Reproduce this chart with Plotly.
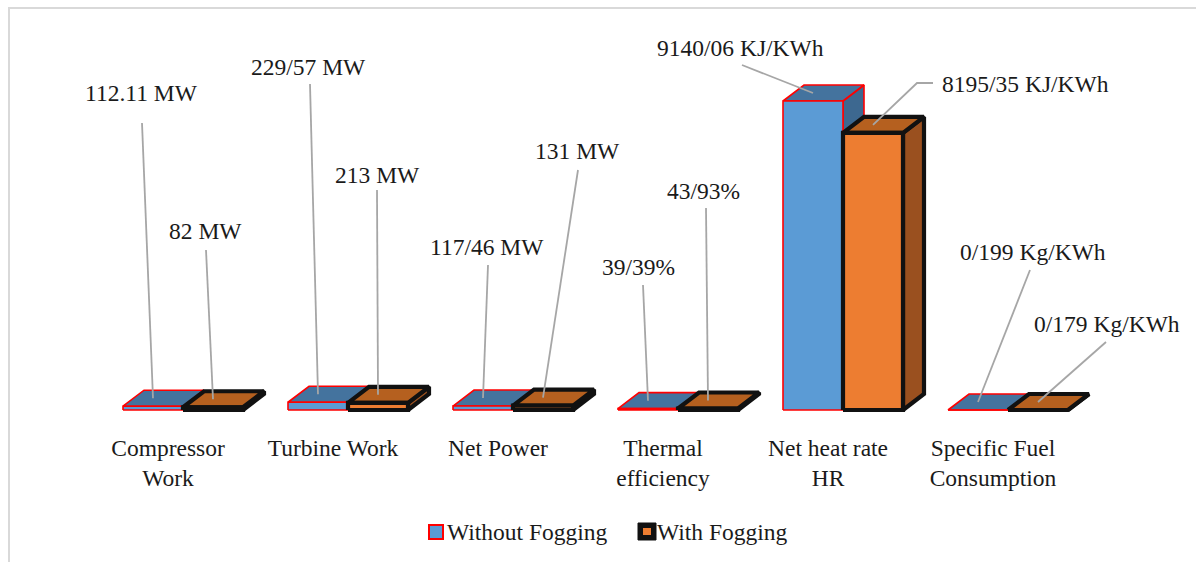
import plotly.graph_objects as go

# ---- data -------------------------------------------------------------
categories = ["Compressor<br>Work", "Turbine Work", "Net Power",
              "Thermal<br>efficiency", "Net heat rate<br>HR",
              "Specific Fuel<br>Consumption"]
without_fogging = [112.11, 229.57, 117.46, 39.39, 9140.06, 0.199]
with_fogging = [82.0, 213.0, 131.0, 43.93, 8195.35, 0.179]
labels_without = ["112.11 MW", "229/57 MW", "117/46 MW", "39/39%",
                  "9140/06 KJ/KWh", "0/199 Kg/KWh"]
labels_with = ["82 MW", "213 MW", "131 MW", "43/93%",
               "8195/35 KJ/KWh", "0/179 Kg/KWh"]

# ---- canvas / scale ---------------------------------------------------
W, H = 1196, 562
PLOT_H = 425            # height of the plotting area (px)
GROUP_PX = 165          # pixels per category
X0_PX = 183             # pixel of the first category centre
BASE_PX = 410           # pixel row of the value 0
UNITS_PER_PX = 29.58    # value units per vertical pixel

x_range = [-X0_PX / GROUP_PX, (W - X0_PX) / GROUP_PX]
y_range = [-(PLOT_H - BASE_PX) * UNITS_PER_PX, BASE_PX * UNITS_PER_PX]


def px_to_x(px):
    return (px - X0_PX) / GROUP_PX


def py_to_y(py):
    return (BASE_PX - py) * UNITS_PER_PX


BAR_W = 60 / GROUP_PX
DEPTH_X = 21 / GROUP_PX
DEPTH_Y = 16 * UNITS_PER_PX

FONT = "Liberation Serif, Times New Roman, serif"
FS = 23.5

styles = {
    "without": dict(front="#5b9bd5", top="#44739e", side="#3d6890",
                    edge="#ff0000", ew=1.6),
    "with": dict(front="#ed7d31", top="#b5601f", side="#9a501f",
                 edge="#111111", ew=4.2),
}

fig = go.Figure()


def add_poly(xs, ys, fill, edge, ew):
    fig.add_trace(go.Scatter(
        x=xs + [xs[0]], y=ys + [ys[0]], mode="lines", fill="toself",
        fillcolor=fill, line=dict(color=edge, width=ew),
        hoverinfo="skip", showlegend=False))


def add_bar(x0, h, st):
    x1 = x0 + BAR_W
    # side face
    add_poly([x1, x1 + DEPTH_X, x1 + DEPTH_X, x1],
             [0, DEPTH_Y, h + DEPTH_Y, h], st["side"], st["edge"], st["ew"])
    # top face
    add_poly([x0, x1, x1 + DEPTH_X, x0 + DEPTH_X],
             [h, h, h + DEPTH_Y, h + DEPTH_Y], st["top"], st["edge"], st["ew"])
    # front face
    add_poly([x0, x1, x1, x0], [0, 0, h, h],
             st["front"], st["edge"], st["ew"])


for k in range(len(categories)):
    add_bar(k - BAR_W, without_fogging[k], styles["without"])
    add_bar(k, with_fogging[k], styles["with"])

# ---- data labels with leader lines -------------------------------------
# label centre (px) and leader-line start points (px) for each bar
label_pos_without = [(141, 93), (308, 67), (487, 247), (638, 267),
                     (740, 48), (1033, 252)]
label_pos_with = [(205, 231), (377, 175), (577, 151), (703, 191),
                  (1025, 84), (1107, 324)]
leader_without = [[(142, 123)], [(310, 84)], [(488, 265)], [(643, 285)],
                  [(742, 65)], [(1030, 270)]]
leader_with = [[(206, 250)], [(377, 190)], [(578, 170)], [(706, 208)],
               [(933, 83), (917, 83)], [(1106, 342)]]

for k in range(len(categories)):
    for vals, texts, lpos, lead, left in (
            (without_fogging, labels_without, label_pos_without,
             leader_without, k - BAR_W),
            (with_fogging, labels_with, label_pos_with, leader_with, k)):
        end_x = left + BAR_W / 2
        end_y = vals[k] + DEPTH_Y / 2
        xs = [px_to_x(p[0]) for p in lead[k]] + [end_x]
        ys = [py_to_y(p[1]) for p in lead[k]] + [end_y]
        fig.add_trace(go.Scatter(x=xs, y=ys, mode="lines",
                                 line=dict(color="#a6a6a6", width=1.8),
                                 hoverinfo="skip", showlegend=False))
        cx, cy = lpos[k]
        fig.add_annotation(x=px_to_x(cx), y=py_to_y(cy), xref="x", yref="y",
                           text=texts[k], showarrow=False,
                           xanchor="center", yanchor="middle",
                           font=dict(family=FONT, size=FS, color="#1a1a1a"))

# ---- chart frame ------------------------------------------------------
def xp(px):
    return px / W


def yp(py):
    return (PLOT_H - py) / PLOT_H


fig.add_shape(type="path",
              path=f"M {xp(9)} {yp(H + 5)} L {xp(9)} {yp(8)} L {xp(W + 5)} {yp(8)}",
              xref="paper", yref="paper",
              line=dict(color="#d9d9d9", width=2))

# ---- legend -----------------------------------------------------------
fig.add_shape(type="rect", xref="paper", yref="paper",
              x0=xp(429), x1=xp(443), y0=yp(539), y1=yp(525),
              fillcolor="#5b9bd5", line=dict(color="#ff0000", width=2))
fig.add_shape(type="rect", xref="paper", yref="paper",
              x0=xp(638), x1=xp(656), y0=yp(540), y1=yp(523),
              fillcolor="#111111", line=dict(color="#111111", width=1))
fig.add_shape(type="rect", xref="paper", yref="paper",
              x0=xp(643), x1=xp(651), y0=yp(535), y1=yp(528),
              fillcolor="#ed7d31", line=dict(width=0))
for txt, px in (("Without Fogging", 445), ("With Fogging", 655)):
    fig.add_annotation(x=xp(px), y=yp(532), xref="paper", yref="paper",
                       text=txt, showarrow=False, xanchor="left",
                       yanchor="middle",
                       font=dict(family=FONT, size=FS, color="#1a1a1a"))

fig.update_layout(
    width=W, height=H,
    margin=dict(l=0, r=0, t=0, b=H - PLOT_H, pad=0),
    paper_bgcolor="white", plot_bgcolor="white",
    showlegend=False,
    xaxis=dict(range=x_range, showgrid=False, zeroline=False,
               showline=False, ticks="",
               tickvals=[k - 15 / GROUP_PX for k in range(len(categories))],
               ticktext=categories, ticklabelstandoff=6,
               tickfont=dict(family=FONT, size=FS, color="#1a1a1a"),
               fixedrange=True),
    yaxis=dict(range=y_range, visible=False, showgrid=False,
               zeroline=False, fixedrange=True),
)

fig.write_html("out.html")
